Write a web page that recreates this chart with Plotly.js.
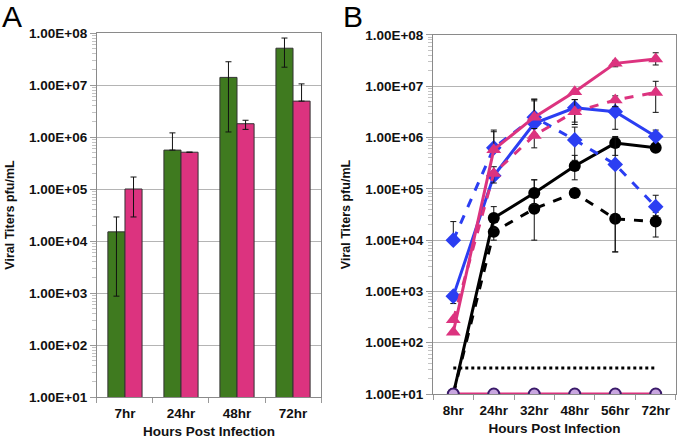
<!DOCTYPE html>
<html>
<head>
<meta charset="utf-8">
<script src="https://cdn.plot.ly/plotly-3.0.1.min.js"></script>
<style>html,body{margin:0;padding:0;background:#fff;}#chart{width:680px;height:440px;}</style>
</head>
<body>
<div id="chart"></div>
<script>
// ---------- Panel A data ----------
const catsA = ['7hr', '24hr', '48hr', '72hr'];
const greenA = [15000, 560000, 14000000, 51000000];
const greenAHi = [29000, 1200000, 28000000, 80000000];
const greenALo = [870, 560000, 1250000, 22000000];
const pinkA = [100000, 510000, 1800000, 4900000];
const pinkAHi = [170000, 510000, 2100000, 10500000];
const pinkALo = [29000, 510000, 1400000, 4900000];

// ---------- Panel B data ----------
const catsB = ['8hr', '24hr', '32hr', '48hr', '56hr', '72hr'];
const pinkSolid = [160, 580000, 2500000, 7800000, 28000000, 34000000];
const pinkSolidHi = [160, 1300000, 5600000, 7800000, 32000000, 45000000];
const pinkSolidLo = [160, 580000, 2500000, 7800000, 24000000, 26000000];
const pinkDashed = [280, 200000, 1100000, 3200000, 5400000, 7600000];
const pinkDashedHi = [280, 270000, 1500000, 5500000, 6500000, 12500000];
const pinkDashedLo = [280, 130000, 630000, 1800000, 4000000, 3100000];
const blueSolid = [810, 180000, 1900000, 3800000, 3200000, 1050000];
const blueSolidHi = [810, 180000, 5200000, 5500000, 4000000, 1400000];
const blueSolidLo = [580, 180000, 1900000, 2000000, 1450000, 800000];
const blueDashed = [10000, 630000, 2500000, 900000, 300000, 45000];
const blueDashedHi = [23000, 1400000, 5600000, 1600000, 1000000, 75000];
const blueDashedLo = [10000, 630000, 1200000, 360000, 5900, 30000];
const blackSolid = [10, 27000, 83000, 280000, 780000, 630000];
const blackSolidHi = [10, 45000, 150000, 450000, 1050000, 630000];
const blackSolidLo = [10, 17000, 50000, 150000, 450000, 630000];
const blackDashed = [10, 14500, 41000, 83000, 26000, 23000];
const blackDashedHi = [10, 14500, 150000, 83000, 28000, 35000];
const blackDashedLo = [10, 10000, 10000, 83000, 5900, 11500];
const limitLine = [32, 32, 32, 32, 32, 32];
const baseline = [10, 10, 10, 10, 10, 10];

// ---------- Tick labels ----------
const yTickVals = [10, 100, 1000, 10000, 100000, 1000000, 10000000, 100000000];
const yTickText = ['1.00E+01', '1.00E+02', '1.00E+03', '1.00E+04', '1.00E+05', '1.00E+06', '1.00E+07', '1.00E+08'];
const yTitle = 'Viral Titers pfu/mL';
const xTitle = 'Hours Post Infection';

// minor tick positions (2..9 x 10^k)
const minorVals = [];
for (let k = 1; k < 8; k++) for (let m = 2; m <= 9; m++) minorVals.push(m * Math.pow(10, k));

const PINK = '#dc337f';
const GREEN = '#3f7a1f';
const BLUE = '#2b3ef2';

function errs(v, hi, lo) {
  return {
    type: 'data', symmetric: false,
    array: v.map((x, i) => hi[i] - x),
    arrayminus: v.map((x, i) => x - lo[i]),
    color: '#111', thickness: 1, width: 3
  };
}

const traces = [
  { type: 'bar', x: catsA, y: greenA, xaxis: 'x', yaxis: 'y', name: 'A1',
    marker: { color: GREEN, line: { color: '#333', width: 1 } },
    error_y: errs(greenA, greenAHi, greenALo) },
  { type: 'bar', x: catsA, y: pinkA, xaxis: 'x', yaxis: 'y', name: 'A2',
    marker: { color: PINK, line: { color: '#333', width: 1 } },
    error_y: errs(pinkA, pinkAHi, pinkALo) },

  { type: 'scatter', mode: 'lines', x: catsB, y: limitLine, xaxis: 'x2', yaxis: 'y2',
    line: { color: '#000', width: 3, dash: 'dot' } },
  { type: 'scatter', mode: 'lines+markers', x: catsB, y: blackDashed, xaxis: 'x2', yaxis: 'y2',
    line: { color: '#000', width: 3, dash: 'dash' },
    marker: { symbol: 'circle', size: 12, color: '#000' },
    error_y: errs(blackDashed, blackDashedHi, blackDashedLo) },
  { type: 'scatter', mode: 'lines+markers', x: catsB, y: blackSolid, xaxis: 'x2', yaxis: 'y2',
    line: { color: '#000', width: 3 },
    marker: { symbol: 'circle', size: 12, color: '#000' },
    error_y: errs(blackSolid, blackSolidHi, blackSolidLo) },
  { type: 'scatter', mode: 'lines+markers', x: catsB, y: blueDashed, xaxis: 'x2', yaxis: 'y2',
    line: { color: BLUE, width: 3, dash: 'dash' },
    marker: { symbol: 'diamond', size: 12, color: BLUE },
    error_y: errs(blueDashed, blueDashedHi, blueDashedLo) },
  { type: 'scatter', mode: 'lines+markers', x: catsB, y: blueSolid, xaxis: 'x2', yaxis: 'y2',
    line: { color: BLUE, width: 3 },
    marker: { symbol: 'diamond', size: 12, color: BLUE },
    error_y: errs(blueSolid, blueSolidHi, blueSolidLo) },
  { type: 'scatter', mode: 'lines+markers', x: catsB, y: pinkDashed, xaxis: 'x2', yaxis: 'y2',
    line: { color: PINK, width: 3, dash: 'dash' },
    marker: { symbol: 'triangle-up', size: 13, color: PINK },
    error_y: errs(pinkDashed, pinkDashedHi, pinkDashedLo) },
  { type: 'scatter', mode: 'lines+markers', x: catsB, y: pinkSolid, xaxis: 'x2', yaxis: 'y2',
    line: { color: PINK, width: 3 },
    marker: { symbol: 'triangle-up', size: 13, color: PINK },
    error_y: errs(pinkSolid, pinkSolidHi, pinkSolidLo) },
  { type: 'scatter', mode: 'lines+markers', x: catsB, y: baseline, xaxis: 'x2', yaxis: 'y2',
    line: { color: PINK, width: 3 },
    marker: { symbol: 'circle', size: 11, color: '#c9a6e0', line: { color: '#3a1a6a', width: 2 } } }
];

const tickFont = { family: 'Liberation Sans, Arial, sans-serif', size: 13.5, color: '#111', weight: 'bold' };
const titleFont = { family: 'Liberation Sans, Arial, sans-serif', size: 13.5, color: '#111', weight: 'bold' };

function yAxis(domain, anchor) {
  return {
    domain: domain, anchor: anchor, type: 'log', range: [1, 8],
    tickmode: 'array', tickvals: yTickVals, ticktext: yTickText,
    tickfont: tickFont, ticks: 'outside', ticklen: 6, tickcolor: '#999',
    showgrid: true, gridcolor: '#b4b4b4', gridwidth: 1,
    showline: true, linecolor: '#8a8a8a', linewidth: 1, mirror: true,
    zeroline: false,
    minor: { tickmode: 'array', tickvals: minorVals, ticks: 'outside', ticklen: 4, tickcolor: '#c4c4c4', showgrid: false },
    title: { text: yTitle, font: { family: 'Liberation Sans, Arial, sans-serif', size: 12.5, color: '#111', weight: 'bold' }, standoff: 11 }
  };
}
function xAxis(domain, anchor) {
  return {
    domain: domain, anchor: anchor, type: 'category',
    tickfont: tickFont, ticks: 'outside', tickson: 'boundaries', ticklen: 5, tickcolor: '#999',
    ticklabelstandoff: 4,
    showgrid: false, showline: true, linecolor: '#8a8a8a', linewidth: 1, mirror: true,
    title: { text: xTitle, font: titleFont, standoff: 6 }
  };
}

const layout = {
  width: 680, height: 440,
  margin: { l: 0, r: 0, t: 0, b: 0 },
  paper_bgcolor: '#fff', plot_bgcolor: '#fff',
  showlegend: false,
  barmode: 'group', bargap: 0.39, bargroupgap: 0,
  xaxis: xAxis([0.1426, 0.4721], 'y'),
  yaxis: yAxis([0.0977, 0.925], 'x'),
  xaxis2: xAxis([0.6368, 0.9941], 'y2'),
  yaxis2: yAxis([0.1045, 0.9205], 'x2'),
  annotations: [
    { text: 'A', xref: 'paper', yref: 'paper', x: 0.0, y: 1.005, xanchor: 'left', yanchor: 'top', showarrow: false,
      font: { family: 'Liberation Sans, Arial, sans-serif', size: 30, color: '#000' } },
    { text: 'B', xref: 'paper', yref: 'paper', x: 0.502, y: 1.005, xanchor: 'left', yanchor: 'top', showarrow: false,
      font: { family: 'Liberation Sans, Arial, sans-serif', size: 30, color: '#000' } }
  ]
};

Plotly.newPlot('chart', traces, layout, { displayModeBar: false, staticPlot: true });
</script>
</body>
</html>
